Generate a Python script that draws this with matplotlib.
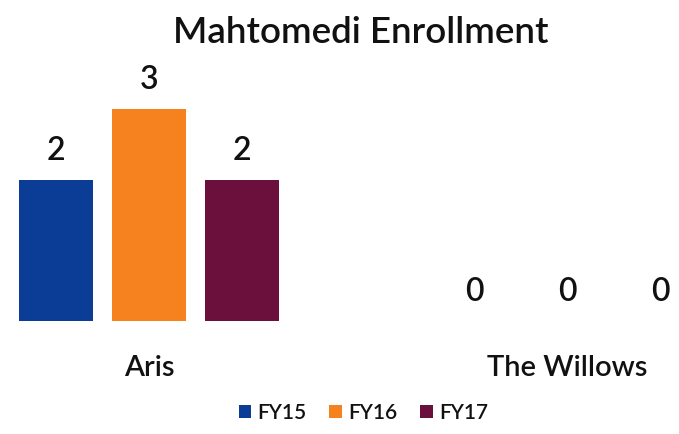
import matplotlib
matplotlib.use("Agg")
import matplotlib.pyplot as plt
import numpy as np

categories = ["Aris", "The Willows"]
series = ["FY15", "FY16", "FY17"]
values = {
    "FY15": [2, 0],
    "FY16": [3, 0],
    "FY17": [2, 0],
}
colors = ["#0b3d96", "#f5821f", "#6b0f3c"]

plt.rcParams['font.family'] = ['Lato', 'DejaVu Sans']

fig = plt.figure(figsize=(6.79, 4.34), dpi=100)
ax = fig.add_axes([0, 0, 1, 1])
ax.set_xlim(-0.3565, 1.268)
ax.set_ylim(-1.603, 4.553)
ax.axis('off')

x = np.arange(len(categories))
offset = 0.2225
width = 0.175
handles = []
for i, (s, c) in enumerate(zip(series, colors)):
    xs = x + (i - 1) * offset
    b = ax.bar(xs, values[s], width=width, color=c, label=s)
    handles.append(b)
    for xi, v in zip(xs, values[s]):
        ax.text(xi, v + 0.2, str(v), ha='center', va='bottom', fontsize=23,
                fontweight='semibold', color='#111111')

for xi, cat in zip(x, categories):
    ax.text(xi, -0.66, cat, ha='center', va='center', fontsize=21,
            fontweight='semibold', color='#111111')

fig.text(0.532, 0.925, "Mahtomedi Enrollment", ha='center', va='center', fontsize=26.5,
         fontweight='semibold', color='#111111')

leg = fig.legend(handles=handles, labels=series, loc='center', bbox_to_anchor=(0.535, 0.048),
                 ncol=3, frameon=False, handlelength=0.6, handleheight=0.6,
                 handletextpad=0.3, columnspacing=1.1,
                 prop={'family': ['Lato', 'DejaVu Sans'], 'size': 15, 'weight': 'semibold'})
for t in leg.get_texts():
    t.set_color('#111111')

fig.savefig("out.png", dpi=100)
